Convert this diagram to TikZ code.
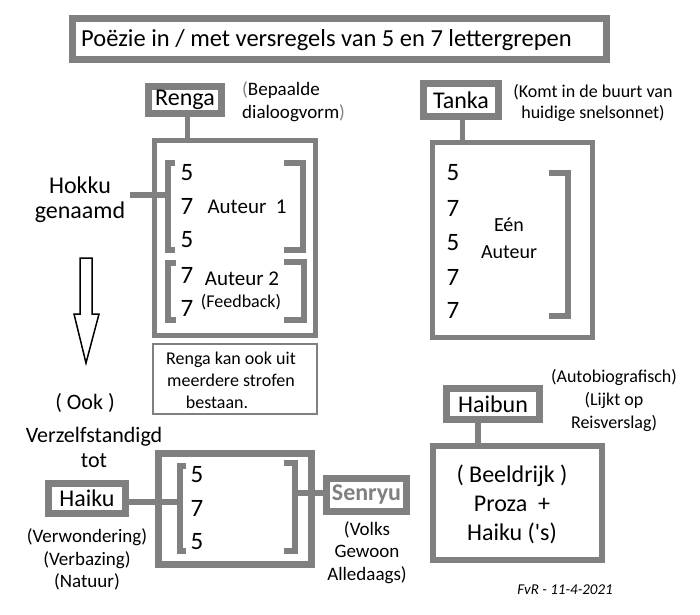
\documentclass[tikz,border=0pt]{standalone}
\usepackage{fontspec}
\setmainfont{Carlito}[Ligatures=TeXOff]
\definecolor{boxgray}{RGB}{128,128,128}
\tikzset{
	lbox/.style={draw=boxgray, line width=7pt, fill=white, inner sep=0pt, font=\fontsize{24}{28}\selectfont},
	mbox/.style={draw=boxgray, line width=5pt, inner sep=0pt},
	brk/.style={draw=boxgray, line width=6pt},
	conn/.style={draw=boxgray, line width=6pt},
	num/.style={inner sep=0pt, font=\fontsize{25}{28}\selectfont},
	txt/.style={inner sep=0pt, align=center},
}
\begin{document}
\begin{tikzpicture}[x=1pt,y=-1pt]
		\useasboundingbox (0,0) rectangle (700,614);
		    \node[lbox, minimum width=534pt, minimum height=41pt] (TI) at (339.5,39) {};
		    \node[txt, anchor=west, font=\fontsize{24.5}{28}\selectfont] (TIX) at (81,40) {Poëzie in / met versregels van 5 en 7 lettergrepen};

		    \node[lbox, minimum width=73pt, minimum height=27pt] (RE) at (185,100) {Renga};
		    \node[mbox, minimum width=161pt, minimum height=195pt] (REB) at (235,238) {};
		    \node[txt, align=left, anchor=west, font=\fontsize{19}{23}\selectfont] (REX) at (242,101.5) {\textcolor{boxgray}{(}Bepaalde\\dialoogvorm\textcolor{boxgray}{)}};
		    \node[mbox, line width=2pt, minimum width=164pt, minimum height=70pt] (NO) at (235,379) {};
		    \node[txt, font=\fontsize{18}{22}\selectfont] (NOX) at (231,380) {Renga kan ook uit\\meerdere strofen\\bestaan.\hspace*{28pt}};

		    \node[lbox, minimum width=75pt, minimum height=33pt] (TA) at (461,100) {Tanka};
		    \node[mbox, minimum width=160pt, minimum height=195pt] (TAB) at (512.5,240) {};
		    \node[txt, font=\fontsize{18}{21}\selectfont] (TAX) at (593,102.5) {(Komt in de buurt van\\huidige snelsonnet)};

		    \node[txt, font=\fontsize{24}{25}\selectfont] (HO) at (80,199.5) {Hokku\\genaamd};
		    \coordinate (HOC) at (130,195);

		    \node[txt, font=\fontsize{22}{22}\selectfont] (OO) at (85,403) {( Ook )};
		    \node[txt, font=\fontsize{22}{25}\selectfont] (VZ) at (94,447.5) {Verzelfstandigd\\tot};

		    \node[lbox, minimum width=77pt, minimum height=30pt] (HK) at (87,498.5) {Haiku};
		    \node[mbox, line width=7pt, minimum width=153pt, minimum height=111pt] (HKB) at (235,509) {};
		    \node[txt, font=\fontsize{19}{22.5}\selectfont] (HKX) at (87,559.5) {(Verwondering)\\(Verbazing)\\(Natuur)};

		    \node[lbox, minimum width=80pt, minimum height=33pt, text=boxgray, font=\fontsize{24}{28}\bfseries\selectfont] (SE) at (366.5,495) {Senryu};
		    \node[txt, font=\fontsize{19}{22.5}\selectfont] (SEX) at (367,552.5) {(Volks\\Gewoon\\Alledaags)};

		    \node[lbox, minimum width=93pt, minimum height=31pt] (HB) at (493,404) {Haibun};
		    \node[mbox, line width=6pt, minimum width=169pt, minimum height=114pt] (HBB) at (517.5,503) {};
		    \node[txt, font=\fontsize{18}{23}\selectfont] (HBX) at (614,400) {(Autobiografisch)\\(Lijkt op\\Reisverslag)};
		    \node[txt, font=\fontsize{24}{29}\selectfont] (HBT) at (512,504) {( Beeldrijk )\\Proza~~+\\Haiku ('s)};

		    \node[txt, font=\fontsize{15}{18}\itshape\selectfont] (FV) at (565,590) {FvR - 11-4-2021};

		    \foreach \n/\y in {5/173, 7/206, 5/240, 7/275, 7/308}
		        \node[num] at (187,\y) {\n};
		    \foreach \n/\y in {5/173, 7/208, 5/243, 7/277, 7/310}
		        \node[num] at (453,\y) {\n};
		    \foreach \n/\y in {5/475, 7/508, 5/542}
		        \node[num] at (197,\y) {\n};

		    \node[txt, font=\fontsize{21}{24}\selectfont] (A1) at (247,207) {Auteur~~1};
		    \node[txt, font=\fontsize{21}{24}\selectfont] (A2) at (242,279) {Auteur~2};
		    \node[txt, font=\fontsize{18}{20}\selectfont] (FB) at (241,302) {(Feedback)};
		    \node[txt, font=\fontsize{20}{27}\selectfont] (EA) at (509,238.5) {Eén\\Auteur};

		   	\draw[brk] (175,163)--(168,163)--(168,250)--(175,250);
		   	\draw[brk] (284,163)--(303,163)--(303,250)--(284,250);
		   	\draw[brk] (176,263)--(168,263)--(168,320)--(176,320);
		   	\draw[brk] (284,262)--(304,262)--(304,320)--(284,320);
		   	\draw[brk] (549,173)--(568,173)--(568,316)--(549,316);
		   	\draw[brk] (186,466)--(180,466)--(180,551)--(186,551);
		   	\draw[brk] (284,463)--(295,463)--(295,551)--(284,551);
		   	\coordinate (BRE) at (168,195);
		   	\coordinate (BHK) at (180,502);
		   	\coordinate (BSE) at (295,493);

		   	\draw[conn] (HOC)--(BRE);
		   	\draw[conn, line width=5pt] ([xshift=2pt]RE.south)--([xshift=2pt]RE.south |- REB.north);
		   	\draw[conn, line width=5pt] ([xshift=1pt]TA.south)--([xshift=1pt]TA.south |- TAB.north);
		   	\draw[conn] ([xshift=-15pt]HB.south)--([xshift=-15pt]HB.south |- HBB.north);
		   	\draw[conn] (HK.east |- BHK)--(BHK);
		   	\draw[conn] (BSE)--(BSE -| SE.west);

		   	\draw[line width=1.5pt] (80,258)--(92,258)--(92,314)--(99,314)--(86,363)--(74,314)--(80,314)--cycle;
		\end{tikzpicture}
\end{document}
